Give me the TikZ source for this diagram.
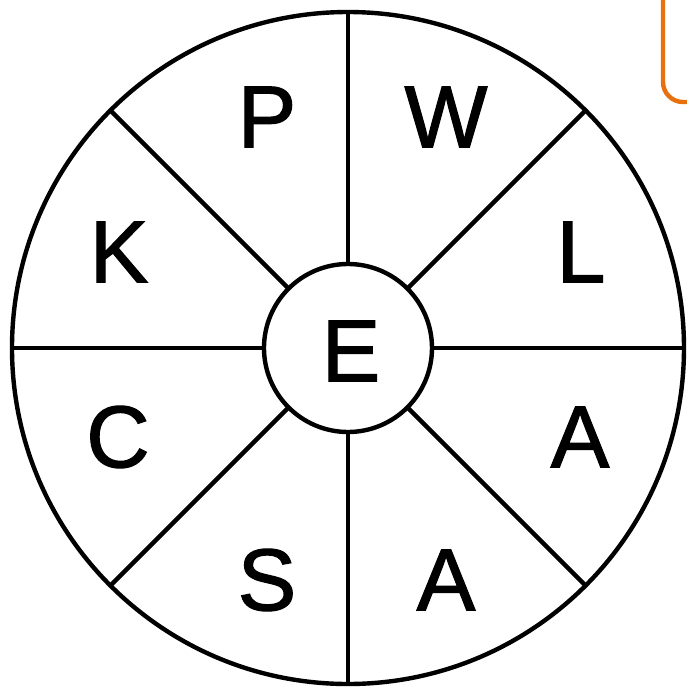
\documentclass[tikz,border=0pt]{standalone}
\usepackage{fontspec}
\setmainfont{Liberation Sans}
\newfontfamily\letterfont[BoldFont={Liberation Sans}, BoldFeatures={FakeBold=1.4}]{Liberation Sans}
\definecolor{boxorange}{HTML}{E8700E}
\tikzset{
  ring/.style={draw, circle, line width=2.5pt, inner sep=0pt, outer sep=0pt},
  letter/.style={font=\letterfont\bfseries\fontsize{50}{50}\selectfont, inner sep=0pt},
  spoke/.style={line width=2.5pt}
}
\begin{document}
\begin{tikzpicture}
                \useasboundingbox (-6.96,-6.88) rectangle (6.78,6.96);
                \node[ring, minimum size=13.44cm] (rim) at (0,0) {};
                \node[ring, minimum size=3.36cm] (hub) at (0,0) {};

                \draw[spoke] (hub.0) -- (rim.0);
                \draw[spoke] (hub.45) -- (rim.45);
                \draw[spoke] (hub.90) -- (rim.90);
                \draw[spoke] (hub.135) -- (rim.135);
                \draw[spoke] (hub.180) -- (rim.180);
                \draw[spoke] (hub.225) -- (rim.225);
                \draw[spoke] (hub.270) -- (rim.270);
                \draw[spoke] (hub.315) -- (rim.315);

                \node[letter] (e) at (0.06,-0.06) {E};
                \node[letter] (p) at (-1.62,4.62) {P};
                \node[letter] (w) at (1.96,4.62) {W};
                \node[letter] (k) at (-4.58,1.92) {K};
                \node[letter] (l) at (4.66,1.92) {L};
                \node[letter] (c) at (-4.60,-1.78) {C};
                \node[letter] (a1) at (4.64,-1.78) {A};
                \node[letter] (s) at (-1.62,-4.64) {S};
                \node[letter] (a2) at (1.96,-4.64) {A};

                \draw[boxorange, line width=2.5pt, rounded corners=0.4cm] (6.30,7.6) rectangle (7.6,4.92);
            \end{tikzpicture}
\end{document}
